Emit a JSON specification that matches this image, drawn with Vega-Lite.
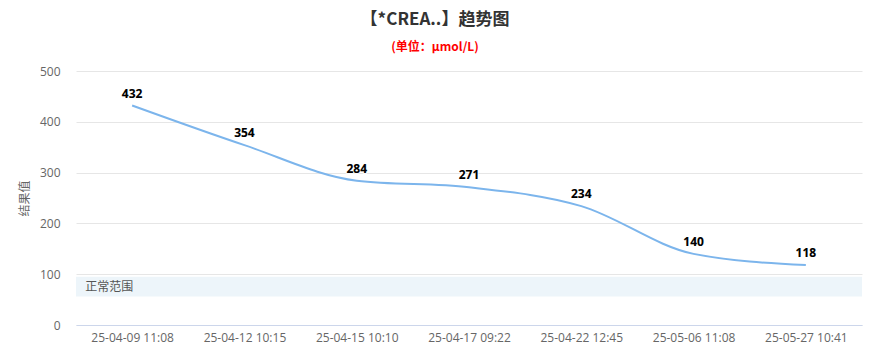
{
  "$schema": "https://vega.github.io/schema/vega-lite/v6.json",
  "width": 786,
  "height": 254,
  "autosize": {"type": "none"},
  "padding": {"left": 76, "top": 71, "right": 7, "bottom": 32},
  "background": "white",
  "title": {
    "text": "【*CREA..】趋势图",
    "subtitle": "(单位：μmol/L)",
    "anchor": "middle",
    "frame": "group",
    "dx": -34,
    "offset": 11,
    "font": "Noto Sans CJK SC",
    "fontSize": 17,
    "fontWeight": "bold",
    "color": "#333333",
    "subtitleFont": "Noto Sans CJK SC",
    "subtitleFontSize": 12,
    "subtitleFontWeight": "bold",
    "subtitleColor": "#ff0000",
    "subtitlePadding": 13
  },
  "config": {
    "view": {"stroke": null},
    "font": "Noto Sans CJK SC"
  },
  "datasets": {
    "series": [
      {"time": "25-04-09 11:08", "value": 432},
      {"time": "25-04-12 10:15", "value": 354},
      {"time": "25-04-15 10:10", "value": 284},
      {"time": "25-04-17 09:22", "value": 271},
      {"time": "25-04-22 12:45", "value": 234},
      {"time": "25-05-06 11:08", "value": 140},
      {"time": "25-05-27 10:41", "value": 118}
    ],
    "band": [
      {"lo": 56, "hi": 95, "label": "正常范围", "first": "25-04-09 11:08"}
    ]
  },
  "layer": [
    {
      "data": {"name": "band"},
      "mark": {"type": "rect", "color": "#edf5fa"},
      "encoding": {
        "y": {"field": "lo", "type": "quantitative"},
        "y2": {"field": "hi"}
      }
    },
    {
      "data": {"name": "band"},
      "mark": {"type": "text", "align": "left", "baseline": "top", "dx": -47, "dy": 5, "fontSize": 12, "color": "#555555"},
      "encoding": {
        "x": {"field": "first", "type": "nominal"},
        "y": {"field": "hi", "type": "quantitative"},
        "text": {"field": "label"}
      }
    },
    {
      "data": {"name": "series"},
      "mark": {"type": "line", "interpolate": "monotone", "color": "#7cb5ec", "strokeWidth": 2},
      "encoding": {
        "x": {
          "field": "time",
          "type": "nominal",
          "sort": null,
          "scale": {"type": "point", "padding": 0.5},
          "axis": {
            "title": null,
            "labelAngle": 0,
            "labelAlign": "center",
            "labelBaseline": "top",
            "labelFont": "Open Sans",
            "labelFontSize": 12,
            "labelColor": "#666666",
            "labelPadding": 7,
            "ticks": false,
            "domainColor": "#ccd6eb",
            "grid": false
          }
        },
        "y": {
          "field": "value",
          "type": "quantitative",
          "scale": {"domain": [0, 500], "nice": false},
          "axis": {
            "title": "结果值",
            "titleColor": "#666666",
            "titleFontSize": 12,
            "titleFontWeight": "normal",
            "titlePadding": 8,
            "values": [0, 100, 200, 300, 400, 500],
            "labelFont": "Open Sans",
            "labelFontSize": 12,
            "labelColor": "#666666",
            "labelPadding": 16,
            "ticks": false,
            "domain": false,
            "gridColor": "#e6e6e6"
          }
        }
      }
    },
    {
      "data": {"name": "series"},
      "mark": {"type": "text", "font": "Open Sans", "fontSize": 12, "fontWeight": "bold", "color": "#000000", "dy": -12, "stroke": "white", "strokeWidth": 2, "strokeOpacity": 0.8},
      "encoding": {
        "x": {"field": "time", "type": "nominal", "sort": null},
        "y": {"field": "value", "type": "quantitative"},
        "text": {"field": "value"}
      }
    },
    {
      "data": {"name": "series"},
      "mark": {"type": "text", "font": "Open Sans", "fontSize": 12, "fontWeight": "bold", "color": "#000000", "dy": -12},
      "encoding": {
        "x": {"field": "time", "type": "nominal", "sort": null},
        "y": {"field": "value", "type": "quantitative"},
        "text": {"field": "value"}
      }
    }
  ]
}
